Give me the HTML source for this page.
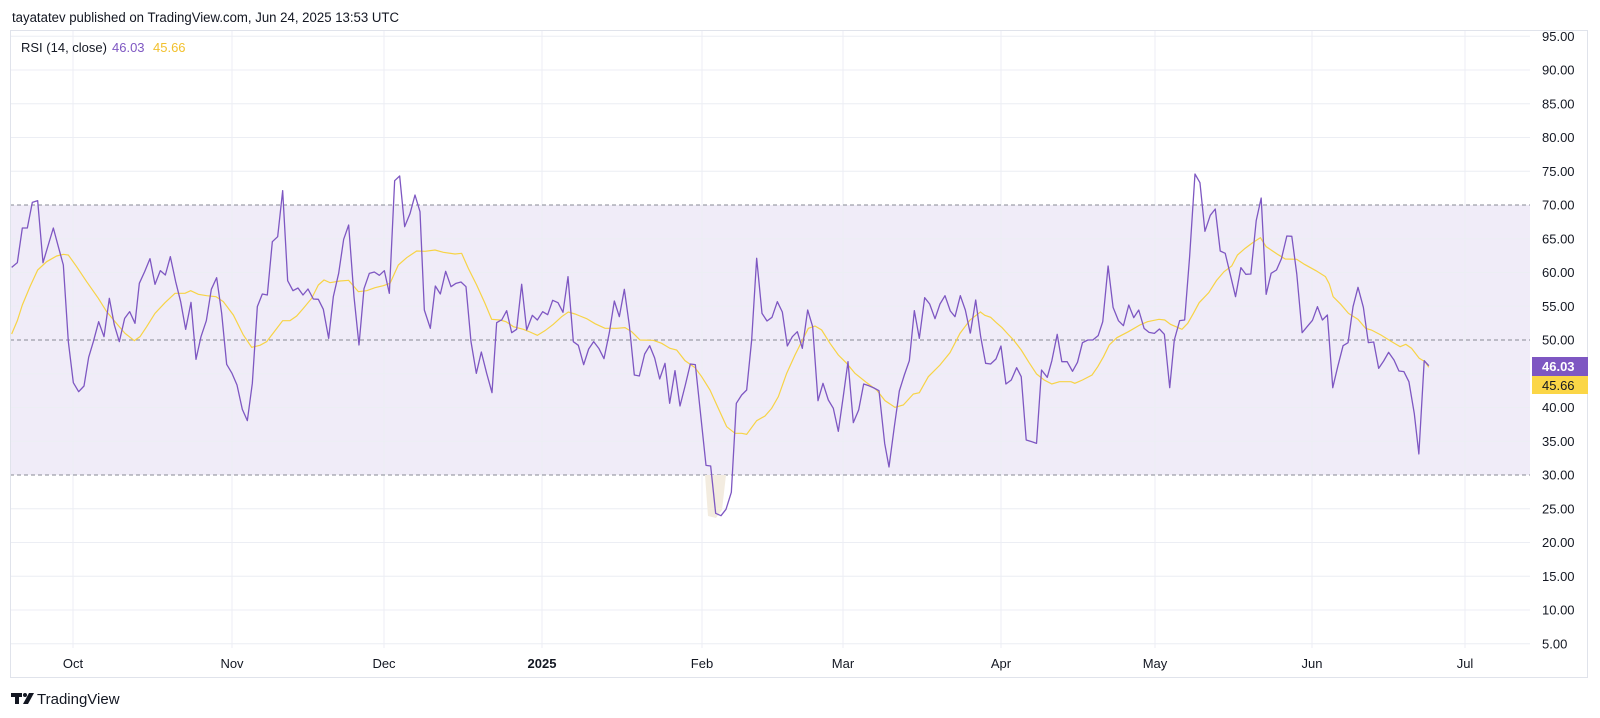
<!DOCTYPE html>
<html><head><meta charset="utf-8"><style>
html,body{margin:0;padding:0;background:#fff;}
svg{display:block;font-family:"Liberation Sans",sans-serif;}
</style></head><body>
<svg width="1600" height="718" viewBox="0 0 1600 718" xmlns="http://www.w3.org/2000/svg">
<rect width="1600" height="718" fill="#fff"/>
<text x="12" y="22" font-size="13.5" fill="#131722" textLength="387" lengthAdjust="spacingAndGlyphs">tayatatev published on TradingView.com, Jun 24, 2025 13:53 UTC</text>
<!-- band -->
<rect x="10" y="205" width="1520" height="270" fill="#f0ecf8"/>
<!-- horizontal grid -->
<g stroke="#eceef4" stroke-width="1">
<line x1="10" x2="1530" y1="36.25" y2="36.25"/><line x1="10" x2="1530" y1="70" y2="70"/><line x1="10" x2="1530" y1="103.75" y2="103.75"/><line x1="10" x2="1530" y1="137.5" y2="137.5"/><line x1="10" x2="1530" y1="171.25" y2="171.25"/><line x1="10" x2="1530" y1="238.75" y2="238.75"/><line x1="10" x2="1530" y1="272.5" y2="272.5"/><line x1="10" x2="1530" y1="306.25" y2="306.25"/><line x1="10" x2="1530" y1="373.75" y2="373.75"/><line x1="10" x2="1530" y1="407.5" y2="407.5"/><line x1="10" x2="1530" y1="441.25" y2="441.25"/><line x1="10" x2="1530" y1="508.75" y2="508.75"/><line x1="10" x2="1530" y1="542.5" y2="542.5"/><line x1="10" x2="1530" y1="576.25" y2="576.25"/><line x1="10" x2="1530" y1="610" y2="610"/><line x1="10" x2="1530" y1="643.75" y2="643.75"/>
</g>
<g stroke="#eceef4" stroke-width="1">
<line x1="73" x2="73" y1="30" y2="648"/><line x1="232" x2="232" y1="30" y2="648"/><line x1="384" x2="384" y1="30" y2="648"/><line x1="542" x2="542" y1="30" y2="648"/><line x1="702" x2="702" y1="30" y2="648"/><line x1="843" x2="843" y1="30" y2="648"/><line x1="1001" x2="1001" y1="30" y2="648"/><line x1="1155" x2="1155" y1="30" y2="648"/><line x1="1312" x2="1312" y1="30" y2="648"/><line x1="1465" x2="1465" y1="30" y2="648"/>
</g>
<g stroke="#878a94" stroke-width="1" stroke-dasharray="4 3">
<line x1="10" x2="1530" y1="205" y2="205"/><line x1="10" x2="1530" y1="340" y2="340"/><line x1="10" x2="1530" y1="475" y2="475"/>
</g>
<!-- oversold fill -->
<polygon points="705,475 708,516 716,518 722,510 726,475" fill="#f3ece0"/>
<!-- frame -->
<rect x="10.5" y="30.5" width="1577" height="647" fill="none" stroke="#e0e3eb"/>
<text x="21" y="52" font-size="13" fill="#131722">RSI (14, close)</text>
<text x="112" y="52" font-size="13" fill="#7e57c2">46.03</text>
<text x="153" y="52" font-size="13" fill="#f2c12e">45.66</text>
<!-- yellow MA -->
<g fill="none" stroke="#f7d346" stroke-width="1.2">
<polyline vector-effect="non-scaling-stroke" transform="translate(0,150) scale(0.33333)" points="35,552 52,512 67,465 90,410 113,360 140,335 170,318 190,313 205,315 230,350 260,395 295,445 320,485 345,515 375,550 403,572 420,560 440,530 465,490 495,458 525,430 555,430 572,422 595,433 620,437 648,440 670,455 700,495 730,555 755,592 780,586 800,575 823,545 848,512 870,512 890,498 910,475 935,445 955,405 972,390 990,398 1020,393 1046,391 1075,425 1100,422 1125,413 1150,407 1170,400 1195,345 1220,323 1250,303 1275,304 1305,300 1330,307 1365,312 1385,310 1405,355 1430,405 1455,460 1475,508 1500,510"/>
<polyline vector-effect="non-scaling-stroke" transform="translate(480,230) scale(0.33333)" points="60,270 78,275 100,290 130,298 150,306 172,316 195,302 220,283 245,260 265,246 285,252 300,258 320,266 345,281 375,295 410,295 435,293 455,305 480,330 520,331 545,340 570,355 590,360 615,392 645,413 665,440 690,480 715,535 740,590 765,610 785,610 800,613 830,572 855,558 875,535 895,500 920,430 945,375 970,325 985,295 1005,288 1025,300 1050,340 1075,375 1100,400 1125,430 1160,458 1190,480 1215,512 1245,532 1270,525 1300,492 1318,488 1345,440 1380,405 1410,368 1440,310 1470,270 1500,247"/>
<polyline vector-effect="non-scaling-stroke" transform="translate(960,160) scale(0.3827,0.33333)" points="52,455 65,466 80,472 95,488 110,503 125,522 140,540 160,570 180,607 200,642 220,660 240,672 260,665 290,665 300,670 320,660 345,645 360,620 375,590 390,555 410,533 440,515 470,495 490,485 520,478 535,480 550,493 580,508 595,490 610,460 625,428 650,398 670,362 690,335 710,318 725,285 745,265 765,248 785,233 800,260 830,283 850,297 880,298 900,313 930,332 955,350 965,372 975,410 995,433 1015,460 1040,478 1060,505 1075,510 1100,525 1125,543 1150,560 1165,553 1180,565 1200,595 1215,605 1225,622"/>
</g>
<!-- purple RSI -->
<g fill="none" stroke="#7e57c2" stroke-width="1.3" stroke-linejoin="round">
<polyline vector-effect="non-scaling-stroke" transform="translate(0,150) scale(0.33333)" points="35,352 52,338 67,234 82,234 97,157 113,152 129,338 160,234 175,290 190,345 205,575 220,698 236,725 252,708 266,622 280,575 296,515 312,560 328,445 343,525 358,575 374,505 389,485 405,520 418,400 434,365 450,326 465,403 481,362 496,375 511,320 527,395 542,455 557,538 573,457 588,628 603,560 619,512 634,418 650,383 665,490 680,643 696,670 711,705 727,778 742,812 757,700 772,470 787,432 802,435 817,275 833,260 848,122 863,392 879,422 894,414 909,435 924,417 940,447 955,448 970,478 986,565 1000,440 1016,370 1031,268 1046,225 1062,440 1077,585 1092,416 1108,370 1123,366 1138,376 1153,362 1168,430 1184,92 1199,78 1214,230 1230,191 1245,135 1260,185 1273,480 1291,535 1306,408 1321,432 1337,364 1353,410 1368,400 1383,396 1398,410 1413,575 1429,670 1444,606 1460,670 1476,728 1490,518 1500,512"/>
<polyline vector-effect="non-scaling-stroke" transform="translate(480,230) scale(0.33333)" points="60,272 65,270 80,242 95,308 110,298 125,163 140,300 157,256 172,270 188,245 203,254 218,211 234,218 249,247 264,140 280,335 295,346 311,404 326,357 341,335 357,356 372,386 388,308 403,213 418,260 433,178 448,286 463,435 478,438 494,372 509,347 524,384 539,447 555,400 569,520 585,422 600,528 616,465 631,402 646,404 661,545 678,706 692,708 707,850 723,857 738,838 754,787 769,520 785,495 800,480 815,330 830,85 846,250 861,273 876,262 892,215 907,246 922,348 937,320 952,305 967,355 983,240 998,290 1014,512 1029,460 1045,510 1060,535 1075,604 1090,498 1104,395 1120,578 1136,540 1151,462 1166,467 1182,474 1197,482 1214,640 1227,711 1243,590 1258,483 1273,435 1288,392 1303,242 1318,325 1334,203 1349,222 1365,266 1380,222 1395,197 1411,243 1425,260 1441,197 1456,240 1471,311"/>
<polyline vector-effect="non-scaling-stroke" transform="translate(960,160) scale(0.3827,0.33333)" points="27,520 41,420 54,530 67,610 80,612 94,597 107,558 120,672 134,660 148,623 160,650 173,840 187,845 200,850 213,630 228,652 240,602 254,523 266,605 280,605 294,634 307,607 320,548 334,540 347,540 361,527 373,485 387,318 400,442 414,482 427,497 441,435 454,473 467,450 481,505 494,517 508,520 521,507 534,523 548,683 560,540 574,482 587,480 600,290 614,42 627,68 640,214 654,166 667,147 680,273 693,280 707,347 720,410 734,323 747,343 760,342 774,182 787,114 800,403 813,340 827,330 840,296 854,228 867,229 880,342 894,518 907,500 921,481 934,440 947,480 960,465 974,683 987,620 1001,557 1014,548 1027,440 1040,382 1054,442 1067,548 1081,546 1094,625 1107,603 1120,577 1134,600 1147,633 1160,635 1173,665 1187,760 1199,882 1213,602 1225,617"/>
</g>
<!-- y axis labels -->
<g font-size="13" fill="#131722">
<text x="1542" y="41">95.00</text><text x="1542" y="74.5">90.00</text><text x="1542" y="108.3">85.00</text><text x="1542" y="142">80.00</text><text x="1542" y="175.8">75.00</text><text x="1542" y="209.5">70.00</text><text x="1542" y="243.3">65.00</text><text x="1542" y="277">60.00</text><text x="1542" y="310.8">55.00</text><text x="1542" y="344.5">50.00</text><text x="1542" y="412">40.00</text><text x="1542" y="445.8">35.00</text><text x="1542" y="479.5">30.00</text><text x="1542" y="513.3">25.00</text><text x="1542" y="547">20.00</text><text x="1542" y="580.8">15.00</text><text x="1542" y="614.5">10.00</text><text x="1542" y="648.3">5.00</text>
</g>
<rect x="1532" y="357" width="56" height="19" fill="#7e57c2"/>
<text x="1542" y="371" font-size="13" fill="#fff" font-weight="bold">46.03</text>
<rect x="1532" y="376" width="56" height="18" fill="#fbd646"/>
<text x="1542" y="390" font-size="13" fill="#131722">45.66</text>
<!-- x labels -->
<g font-size="13" fill="#131722" text-anchor="middle">
<text x="73" y="668">Oct</text><text x="232" y="668">Nov</text><text x="384" y="668">Dec</text><text x="542" y="668" font-weight="bold">2025</text><text x="702" y="668">Feb</text><text x="843" y="668">Mar</text><text x="1001" y="668">Apr</text><text x="1155" y="668">May</text><text x="1312" y="668">Jun</text><text x="1465" y="668">Jul</text>
</g>
<!-- logo -->
<g fill="#131722">
<rect x="11" y="693" width="11" height="4"/><rect x="15" y="693" width="4" height="11"/>
<circle cx="25" cy="695" r="2"/><polygon points="29,693 34,693 28,704 23,704"/>
</g>
<text x="37" y="704" font-size="15" fill="#131722">TradingView</text>
</svg>
</body></html>
